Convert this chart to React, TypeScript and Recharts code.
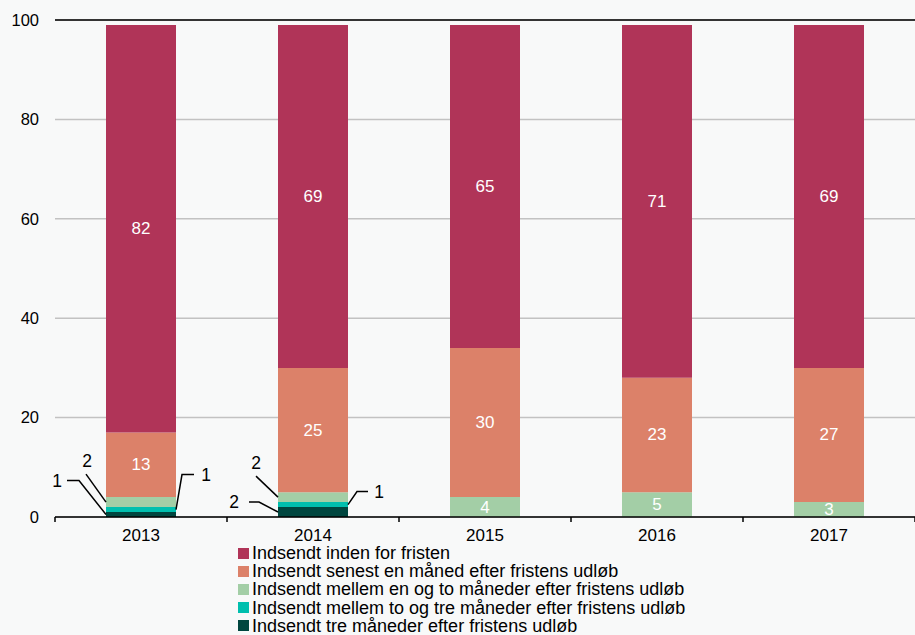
import { BarChart, Bar, XAxis, YAxis, CartesianGrid, Legend, LabelList, ReferenceLine } from 'recharts';

const years = ['2013', '2014', '2015', '2016', '2017'];
const inden = [82, 69, 65, 71, 69];
const senest = [13, 25, 30, 23, 27];
const enTo = [2, 2, 4, 5, 3];
const toTre = [1, 1, 0, 0, 0];
const tre = [1, 2, 0, 0, 0];
const yTicks = [0, 20, 40, 60, 80, 100];

const data = years.map((year, i) => ({
  year,
  tre: tre[i],
  toTre: toTre[i],
  enTo: enTo[i],
  senest: senest[i],
  inden: inden[i],
}));

// stack order bottom -> top
const series = [
  { key: 'tre', name: 'Indsendt tre måneder efter fristens udløb', color: '#00463f' },
  { key: 'toTre', name: 'Indsendt mellem to og tre måneder efter fristens udløb', color: '#00bfae' },
  { key: 'enTo', name: 'Indsendt mellem en og to måneder efter fristens udløb', color: '#a3cea6' },
  { key: 'senest', name: 'Indsendt senest en måned efter fristens udløb', color: '#dc8169' },
  { key: 'inden', name: 'Indsendt inden for fristen', color: '#b03458' },
];

const FONT = '"Liberation Sans", Arial, sans-serif';

// leader lines for the thin segments: side, elbow offsets, label offsets
type Leader = { side: 'left' | 'right'; pts: [number, number][]; text: [number, number]; anchor: 'start' | 'middle' | 'end' };
const leaders: Record<string, Leader> = {
  'tre|2013': { side: 'left', pts: [[-27, -34], [-39, -34]], text: [-44, -34], anchor: 'end' },
  'enTo|2013': { side: 'left', pts: [[-20, -28]], text: [-19, -41], anchor: 'middle' },
  'toTre|2013': { side: 'right', pts: [[6, -35], [18, -35]], text: [30, -35], anchor: 'middle' },
  'tre|2014': { side: 'left', pts: [[-19, -10], [-29, -10]], text: [-39, -10], anchor: 'end' },
  'enTo|2014': { side: 'left', pts: [[-22, -21]], text: [-22, -34], anchor: 'middle' },
  'toTre|2014': { side: 'right', pts: [[9, -13], [20, -13]], text: [31, -13], anchor: 'middle' },
};

const makeLabel = (key: string) => (props: any) => {
  const { x, y, width, height, value, index } = props;
  if (!value) return null;
  const cx = Number(x) + Number(width) / 2;
  const cy = Number(y) + Number(height) / 2;
  const lead = leaders[`${key}|${years[index]}`];
  if (lead) {
    const px = lead.side === 'left' ? Number(x) : Number(x) + Number(width);
    const pts = [[px, cy], ...lead.pts.map(([dx, dy]) => [px + dx, cy + dy])];
    return (
      <g>
        <polyline points={pts.map((p) => p.join(',')).join(' ')} fill="none" stroke="#000" strokeWidth={1.5} />
        <text x={px + lead.text[0]} y={cy + lead.text[1]} textAnchor={lead.anchor} dominantBaseline="central" fontSize={17.5} fontFamily={FONT} fill="#000">
          {value}
        </text>
      </g>
    );
  }
  return (
    <text x={cx} y={cy} textAnchor="middle" dominantBaseline="central" fontSize={17} fontFamily={FONT} fill="#fff">
      {value}
    </text>
  );
};

const XTick = (props: any) => {
  const { x, y, payload, index } = props;
  const off = payload.offset || 0;
  return (
    <g>
      <line x1={x - off} y1={y} x2={x - off} y2={y + 5} stroke="#000" strokeWidth={1.5} />
      {index === years.length - 1 && <line x1={x + off} y1={y} x2={x + off} y2={y + 5} stroke="#000" strokeWidth={1.5} />}
      <text x={x} y={y + 24} textAnchor="middle" fontSize={17} fontFamily={FONT} fill="#000">
        {payload.value}
      </text>
    </g>
  );
};

const LegendContent = () => (
  <div style={{ fontFamily: FONT, fontSize: 18, lineHeight: '18.2px', color: '#000' }}>
    {[...series].reverse().map((s) => (
      <div key={s.key} style={{ display: 'flex', alignItems: 'center', height: 18.2, whiteSpace: 'nowrap' }}>
        <span style={{ width: 11, height: 11, background: s.color, display: 'inline-block', marginRight: 3 }} />
        <span style={{ lineHeight: '18.2px' }}>{s.name}</span>
      </div>
    ))}
  </div>
);

export default function App() {
  return (
    <div style={{ width: 915, height: 635, background: '#f8f9f9' }}>
      <style>{'body{margin:0;background:#f8f9f9}'}</style>
      <BarChart width={915} height={635} data={data} margin={{ top: 20, right: 0, left: 0, bottom: 88 }} barSize={70}>
        <CartesianGrid vertical={false} stroke="#c2c2c2" strokeWidth={1.5} />
        <XAxis dataKey="year" height={30} tickSize={0} tickMargin={0} tick={<XTick />} axisLine={{ stroke: '#000', strokeWidth: 1.5 }} tickLine={false} interval={0} />
        <YAxis width={55} domain={[0, 100]} ticks={yTicks} axisLine={false} tickLine={false} tickSize={0} tickMargin={16} tick={{ fontSize: 16.5, fontFamily: FONT, fill: '#000' }} />
        <ReferenceLine y={100} stroke="#000" strokeWidth={1.5} />
        <Legend layout="vertical" align="center" verticalAlign="middle" content={<LegendContent />} wrapperStyle={{ left: 238, top: 544, width: 580, height: 91 }} />
        {series.map((s) => (
          <Bar key={s.key} dataKey={s.key} name={s.name} stackId="a" fill={s.color} isAnimationActive={false}>
            <LabelList dataKey={s.key} content={makeLabel(s.key)} />
          </Bar>
        ))}
      </BarChart>
    </div>
  );
}
